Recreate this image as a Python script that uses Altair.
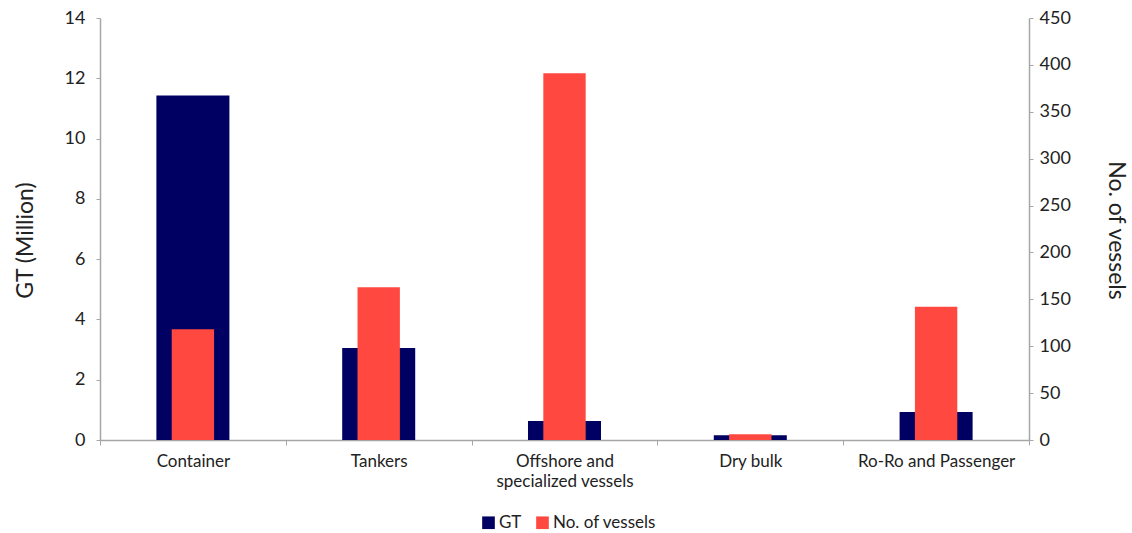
import altair as alt
import pandas as pd

# Vessel categories and the two measures (GT in millions, vessel counts)
categories = ["Container", "Tankers", "Offshore and specialized vessels", "Dry bulk", "Ro-Ro and Passenger"]
gt_million = [11.43, 3.05, 0.63, 0.16, 0.93]
vessel_counts = [118, 163, 391, 6, 142]

series_names = ["GT", "No. of vessels"]
series_colors = ["#000062", "#FF4840"]

gt_df = pd.DataFrame({"category": categories, "value": gt_million, "series": "GT"})
ves_df = pd.DataFrame({"category": categories, "value": vessel_counts, "series": "No. of vessels"})

FONT = "Lato"
AXIS_GRAY = "#A6A6A6"
TEXT = "#222222"

x_enc = alt.X(
    "category:N",
    sort=categories,
    scale=alt.Scale(paddingInner=0, paddingOuter=0),
    axis=alt.Axis(
        title=None,
        labelAngle=0,
        labelFontSize=17,
        labelFont=FONT,
        labelColor=TEXT,
        labelPadding=8,
        labelLineHeight=20,
        tickBand="extent",
        tickSize=5,
        tickColor=AXIS_GRAY,
        domainColor=AXIS_GRAY,
        domainWidth=1.5,
        labelExpr="datum.label == 'Offshore and specialized vessels' ? ['Offshore and', 'specialized vessels'] : datum.label",
    ),
)

color_enc = alt.Color(
    "series:N",
    scale=alt.Scale(domain=series_names, range=series_colors),
    legend=alt.Legend(
        title=None,
        orient="none",
        direction="horizontal",
        legendX=380,
        legendY=496,
        symbolType="square",
        symbolSize=160,
        symbolStrokeWidth=0,
        labelFontSize=17,
        labelFont=FONT,
        labelColor=TEXT,
        columnPadding=12,
        labelOffset=2,
    ),
)

gt_bars = alt.Chart(gt_df).mark_bar(width=alt.RelativeBandSize(0.393)).encode(
    x=x_enc,
    y=alt.Y(
        "value:Q",
        scale=alt.Scale(domain=[0, 14], nice=False),
        axis=alt.Axis(
            title="GT (Million)",
            values=list(range(0, 15, 2)),
            grid=False,
            labelFontSize=18,
            labelFont=FONT,
            labelColor=TEXT,
            labelPadding=11,
            tickSize=4,
            tickColor=AXIS_GRAY,
            domainColor=AXIS_GRAY,
            domainWidth=1.5,
            titleFont=FONT,
            titleFontSize=23,
            titleFontWeight="normal",
            titleColor=TEXT,
            titleX=-75,
            titleY=222,
            titleAngle=270,
            titleAlign="center",
            titleBaseline="middle",
        ),
    ),
    color=color_enc,
)

vessel_bars = alt.Chart(ves_df).mark_bar(width=alt.RelativeBandSize(0.228)).encode(
    x=x_enc,
    y=alt.Y(
        "value:Q",
        scale=alt.Scale(domain=[0, 450], nice=False),
        axis=alt.Axis(
            title="No. of vessels",
            orient="right",
            values=list(range(0, 451, 50)),
            grid=False,
            labelFontSize=18,
            labelFont=FONT,
            labelColor=TEXT,
            labelPadding=6,
            tickSize=4,
            tickColor=AXIS_GRAY,
            domainColor=AXIS_GRAY,
            domainWidth=1.5,
            titleFont=FONT,
            titleFontSize=23,
            titleFontWeight="normal",
            titleColor=TEXT,
            titleX=86,
            titleY=212,
            titleAngle=90,
            titleAlign="center",
            titleBaseline="middle",
        ),
    ),
    color=color_enc,
)

chart = (
    alt.layer(gt_bars, vessel_bars)
    .resolve_scale(y="independent")
    .properties(
        width=929,
        height=422,
        autosize=alt.AutoSizeParams(type="none"),
        padding={"left": 100, "top": 18, "right": 103, "bottom": 93},
        background="white",
    )
    .configure_view(stroke=None)
)

chart.save("out.html", embed_options={"renderer": "svg", "actions": False})
